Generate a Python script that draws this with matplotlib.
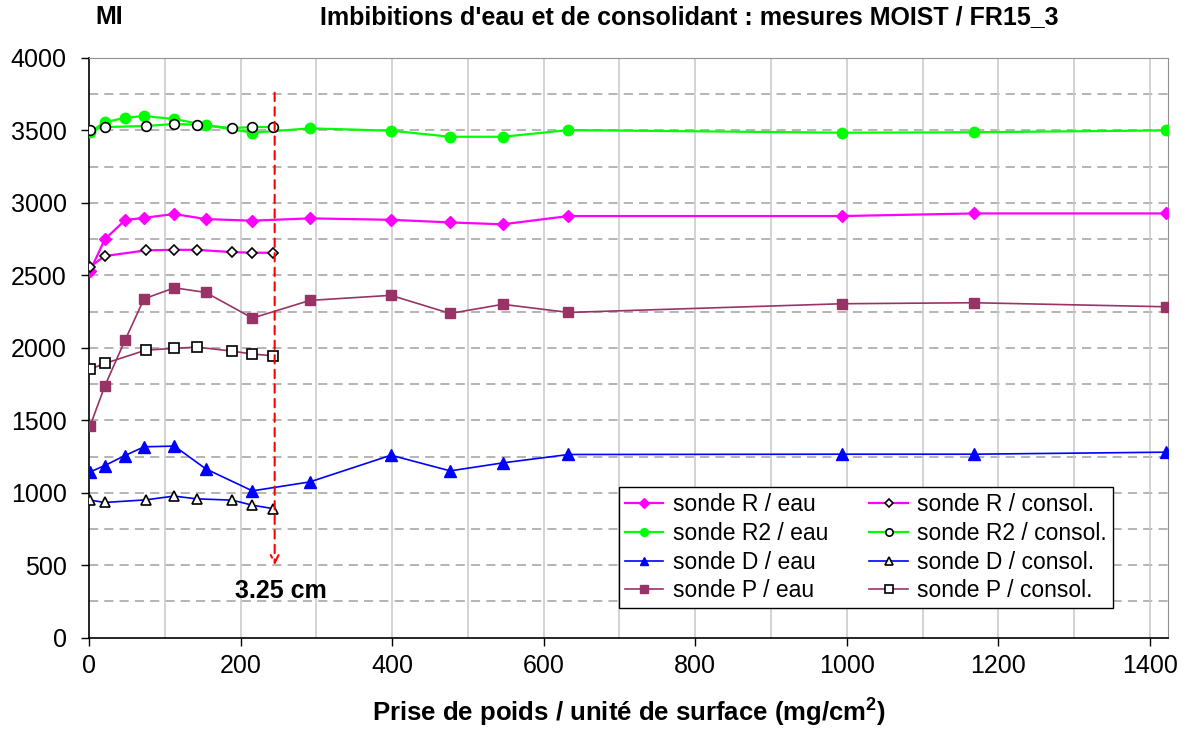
import numpy as np
import matplotlib
matplotlib.use("Agg")
import matplotlib.pyplot as plt

plt.rcParams['font.family'] = ['Liberation Sans', 'DejaVu Sans']
plt.rcParams['mathtext.fontset'] = 'custom'
plt.rcParams['mathtext.bf'] = 'Liberation Sans:bold'
plt.rcParams['mathtext.rm'] = 'Liberation Sans'

# water uptake ("eau") - probes R, R2, D, P
x_eau = [1.5, 20.8, 47.6, 72.6, 112.7, 154, 215.6, 291.5, 398.5, 476.6, 546, 632.6, 994, 1168, 1422]
r_eau = [2531, 2748, 2881, 2897, 2923, 2888, 2877, 2893, 2883, 2865, 2852, 2909, 2909, 2927, 2927]
r2_eau = [3491, 3556, 3587, 3599, 3578, 3537, 3484, 3514, 3498, 3456, 3456, 3502, 3484, 3487, 3500]
d_eau = [1144, 1188, 1257, 1317, 1322, 1165, 1013, 1075, 1259, 1151, 1206, 1264, 1266, 1266, 1280]
p_eau = [1462, 1736, 2053, 2338, 2414, 2382, 2205, 2327, 2362, 2237, 2300, 2244, 2304, 2311, 2283]

# consolidant uptake
x_cons = [1.5, 20.8, 74.9, 112, 142.1, 189.2, 215.6, 242.7]
r_cons = [2559, 2633, 2672, 2676, 2676, 2660, 2656, 2656]
r2_cons = [3500, 3523, 3530, 3544, 3539, 3516, 3523, 3523]
d_cons = [949, 933, 951, 977, 958, 949, 914, 891]
p_cons = [1853, 1892, 1984, 1996, 2005, 1977, 1957, 1945]

depth_x = 245  # 3.25 cm
depth_label = "3.25 cm"

fig = plt.figure(figsize=(11.87, 7.33), dpi=100)
ax = fig.add_axes([0.075, 0.130, 0.909, 0.791])

# grid
for yv in np.arange(250, 4000, 250):
    ax.axhline(yv, color='#a0a0a0', lw=1.1, ls=(0, (6, 4)), zorder=0)
for xv in np.arange(100, 1425, 100):
    ax.axvline(xv, color='#c8c8c8', lw=1.1, zorder=0)

# water series
ax.plot(x_eau, r_eau, color='#ff00ff', lw=1.6, marker='D', ms=6.5, mec='#ff00ff', label='sonde R / eau', zorder=3)
ax.plot(x_eau, r2_eau, color='#00ff00', lw=1.6, marker='o', ms=7.5, mec='#00ff00', label='sonde R2 / eau', zorder=3)
ax.plot(x_eau, d_eau, color='#0000ff', lw=1.2, marker='^', ms=8, mec='#0000ff', label='sonde D / eau', zorder=3)
ax.plot(x_eau, p_eau, color='#993366', lw=1.2, marker='s', ms=7.5, mec='#993366', label='sonde P / eau', zorder=3)

# consolidant series (hollow black markers)
ax.plot(x_cons, r_cons, color='#ff00ff', lw=1.6, marker='D', ms=5.5, mfc='white', mec='black', mew=1.2, label='sonde R / consol.', zorder=4)
ax.plot(x_cons, r2_cons, color='#00ff00', lw=1.6, marker='o', ms=7, mfc='white', mec='black', mew=1.2, label='sonde R2 / consol.', zorder=4)
ax.plot(x_cons, d_cons, color='#0000ff', lw=1.2, marker='^', ms=7, mfc='white', mec='black', mew=1.2, label='sonde D / consol.', zorder=4)
ax.plot(x_cons, p_cons, color='#993366', lw=1.2, marker='s', ms=7, mfc='white', mec='black', mew=1.2, label='sonde P / consol.', zorder=4)

# red dashed arrow for the penetration depth
ax.annotate('', xy=(depth_x, 500), xytext=(depth_x, 3760),
            arrowprops=dict(arrowstyle='->', color='red', lw=1.5, ls=(0, (4, 3)), mutation_scale=14,
                            shrinkA=0, shrinkB=0), zorder=5)
ax.text(253, 325, depth_label, fontsize=18, fontweight='bold', ha='center', va='center')

ax.set_xlim(0, 1424)
ax.set_ylim(0, 4000)
ax.set_xticks(np.arange(0, 1401, 200))
ax.set_yticks(np.arange(0, 4001, 500))
ax.tick_params(axis='both', labelsize=18, direction='out', length=6, width=1)
ax.tick_params(axis='x', pad=6)
ax.tick_params(axis='y', pad=10)

for s in ['top', 'right']:
    ax.spines[s].set_color('#909090')
for s in ['left', 'bottom']:
    ax.spines[s].set_color('black')
    ax.spines[s].set_linewidth(1.2)

ax.set_xlabel(r'Prise de poids / unité de surface (mg/cm$^\mathbf{2}$)', fontsize=18.5, fontweight='bold', labelpad=12)

fig.text(0.080, 0.977, 'MI', fontsize=18, fontweight='bold', ha='left', va='center')
fig.text(0.581, 0.977, "Imbibitions d'eau et de consolidant : mesures MOIST / FR15_3",
         fontsize=18, fontweight='bold', ha='center', va='center')

leg = ax.legend(loc='lower left', bbox_to_anchor=(0.491, 0.051), ncol=2, fontsize=16.5, frameon=True,
                fancybox=False, edgecolor='black', framealpha=1, markerscale=0.75, borderaxespad=0,
                handlelength=1.7, columnspacing=1.8, labelspacing=0.25, borderpad=0.25, handletextpad=0.4)
leg.get_frame().set_linewidth(1.0)
leg.set_zorder(10)

fig.savefig('out.png', dpi=100)
